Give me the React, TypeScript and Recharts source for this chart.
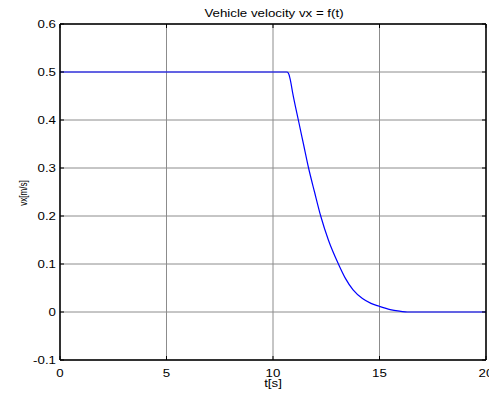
import React from "react";
import {
  LineChart,
  Line,
  XAxis,
  YAxis,
  CartesianGrid,
} from "recharts";

const tVals = [0, 10.66, 10.74, 10.82, 10.93, 11.19, 11.43, 11.67, 11.95, 12.24, 12.6, 13.07, 13.4, 13.76, 14.2, 14.6, 14.98, 15.5, 16.0, 16.3, 20];
const vxVals = [0.5, 0.5, 0.496, 0.482, 0.455, 0.4, 0.35, 0.3, 0.25, 0.2, 0.15, 0.1, 0.07, 0.046, 0.028, 0.018, 0.012, 0.005, 0.0015, 0, 0];
const xTicks = [0, 5, 10, 15, 20];
const yTicks = [-0.1, 0, 0.1, 0.2, 0.3, 0.4, 0.5, 0.6];
const xTickLabels = ["0", "5", "10", "15", "20"];
const yTickLabels = ["-0.1", "0", "0.1", "0.2", "0.3", "0.4", "0.5", "0.6"];

const data = tVals.map((t, i) => ({ t, vx: vxVals[i] }));

const FONT = "'Liberation Sans', Arial, Helvetica, sans-serif";
const SX = 1.33;
const TICK_LEN = 4;

const StretchText = ({ x, y, anchor, children, size = 10 }: any) => (
  <text
    transform={`translate(${x},${y}) scale(${SX},1)`}
    x={0}
    y={0}
    textAnchor={anchor}
    fontFamily={FONT}
    fontSize={size}
    fill="#000"
  >
    {children}
  </text>
);

const BottomTick = (props: any) => {
  const { x, y, payload } = props;
  const idx = xTicks.indexOf(payload.value);
  return (
    <g>
      <line x1={x} y1={y} x2={x} y2={y - TICK_LEN} stroke="#000" />
      <StretchText x={x} y={y + 16.5} anchor="middle">
        {idx >= 0 ? xTickLabels[idx] : ""}
      </StretchText>
    </g>
  );
};

const TopTick = (props: any) => {
  const { x, y } = props;
  return <line x1={x} y1={y} x2={x} y2={y + TICK_LEN} stroke="#000" />;
};

const LeftTick = (props: any) => {
  const { x, y, payload } = props;
  const idx = yTicks.findIndex((v) => Math.abs(v - payload.value) < 1e-9);
  return (
    <g>
      <line x1={x} y1={y} x2={x + TICK_LEN} y2={y} stroke="#000" />
      <StretchText x={x - 4} y={y + 3.8} anchor="end">
        {idx >= 0 ? yTickLabels[idx] : ""}
      </StretchText>
    </g>
  );
};

const RightTick = (props: any) => {
  const { x, y } = props;
  return <line x1={x} y1={y} x2={x - TICK_LEN} y2={y} stroke="#000" />;
};

export default function App() {
  return (
    <div style={{ position: "absolute", left: 0, top: 0, width: 489, height: 400, background: "#fff" }}>
      <LineChart
        width={489}
        height={400}
        data={data}
        margin={{ top: 23, right: 2, bottom: 39, left: 59 }}
      >
        <CartesianGrid stroke="#8c8c8c" strokeWidth={1} />
        <XAxis
          dataKey="t"
          type="number"
          domain={[0, 20]}
          ticks={xTicks}
          height={1}
          tickSize={0}
          tickMargin={0}
          tickLine={false}
          axisLine={{ stroke: "#000", strokeWidth: 1.5 }}
          tick={<BottomTick />}
          interval={0}
          allowDataOverflow
        />
        <XAxis
          xAxisId="top"
          orientation="top"
          type="number"
          domain={[0, 20]}
          ticks={xTicks}
          height={1}
          tickSize={0}
          tickMargin={0}
          tickLine={false}
          axisLine={{ stroke: "#000", strokeWidth: 1.5 }}
          tick={<TopTick />}
          interval={0}
          allowDataOverflow
        />
        <YAxis
          type="number"
          domain={[-0.1, 0.6]}
          ticks={yTicks}
          width={1}
          tickSize={0}
          tickMargin={0}
          tickLine={false}
          axisLine={{ stroke: "#000", strokeWidth: 1.5 }}
          tick={<LeftTick />}
          interval={0}
          allowDataOverflow
        />
        <YAxis
          yAxisId="right"
          orientation="right"
          type="number"
          domain={[-0.1, 0.6]}
          ticks={yTicks}
          width={1}
          tickSize={0}
          tickMargin={0}
          tickLine={false}
          axisLine={{ stroke: "#000", strokeWidth: 1.5 }}
          tick={<RightTick />}
          interval={0}
          allowDataOverflow
        />
        <Line
          type="monotone"
          dataKey="vx"
          stroke="#0000ff"
          strokeWidth={1.2}
          dot={false}
          isAnimationActive={false}
        />
        <StretchText x={274} y={16.5} anchor="middle">
          Vehicle velocity vx = f(t)
        </StretchText>
        <StretchText x={273} y={387} anchor="middle">
          t[s]
        </StretchText>
        <text
          transform="translate(26.5,193) rotate(-90) scale(1,1.25)"
          x={0}
          y={0}
          textAnchor="middle"
          fontFamily={FONT}
          fontSize={8}
          fill="#000"
        >
          vx[m/s]
        </text>
      </LineChart>
    </div>
  );
}
